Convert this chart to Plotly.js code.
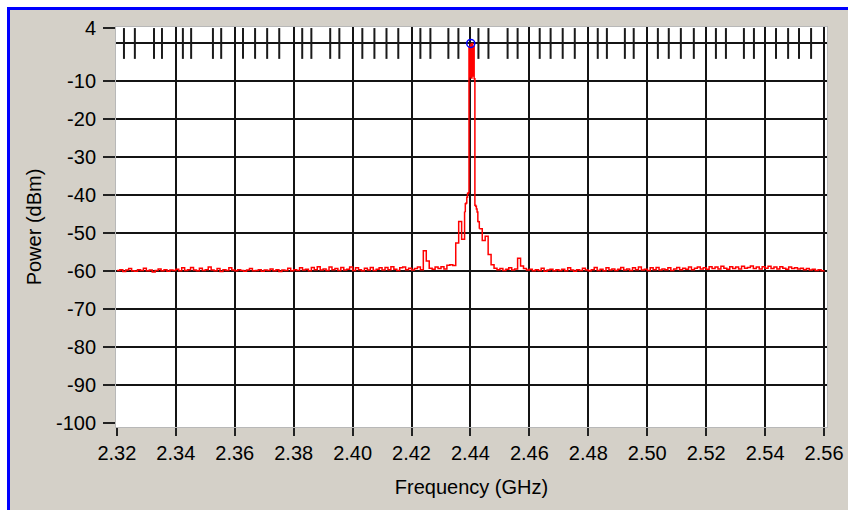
<!DOCTYPE html>
<html><head><meta charset="utf-8">
<script src="https://cdn.plot.ly/plotly-3.0.1.min.js"></script>
<style>
html,body{margin:0;padding:0;background:#fff;}
#wrap{position:relative;width:848px;height:510px;overflow:hidden;}
#chart{position:absolute;left:0;top:0;width:848px;height:510px;}
#frame{position:absolute;left:0;top:0;width:848px;height:510px;box-sizing:border-box;border-style:solid;border-color:#fff;border-width:7px 0 0 7px;pointer-events:none;}
#frame div{width:100%;height:100%;box-sizing:border-box;border-style:solid;border-color:#0000ff;border-width:3px 0 0 3px;}
</style></head>
<body>
<div id="wrap"><div id="chart"></div><div id="frame"><div></div></div></div>
<script>
// ---- data ----
const seg1Start = 2.320, seg1Step = 0.001;
const powerSeg1 = [
 -59.8,-59.6,-60.1,-59.7,-59.3,-59.9,-60.0,-59.6,-59.8,-59.2,
 -59.9,-59.7,-60.2,-59.8,-59.4,-59.9,-59.6,-60.0,-59.7,-59.8,
 -59.5,-59.9,-59.1,-59.8,-59.6,-59.0,-59.7,-59.9,-59.2,-59.8,
 -59.6,-58.9,-59.7,-59.9,-59.3,-60.1,-59.6,-59.8,-59.1,-59.7,
 -59.9,-59.6,-59.8,-60.0,-59.7,-59.3,-59.9,-59.8,-59.6,-60.0,
 -59.7,-59.8,-59.4,-59.9,-59.6,-60.1,-59.7,-59.8,-59.2,-59.9,
 -59.6,-59.8,-59.1,-59.7,-59.5,-59.9,-59.0,-59.6,-58.8,-59.7,
 -59.4,-59.8,-58.9,-59.6,-59.3,-59.8,-59.0,-59.7,-59.5,-58.9,
 -59.8,-59.1,-59.6,-59.9,-59.2,-59.7,-59.0,-59.8,-59.5,-59.1,
 -59.7,-59.0,-59.6,-58.8,-59.5,-59.8,-59.1,-58.9,-59.6,-59.2,
 -59.7,-59.3,-58.9,-59.6,-54.6,-57.3,-59.2,-59.5,-58.9,-59.3,
 -58.8,-59.4,-58.4,-58.3,-58.5,-52.6,-46.9,-51.6,
 -44.3
];
const seg2Start = 2.438, seg2Step = 0.00025;
const powerSeg2 = [
 -44.3,-42.2,-42.0,-40.5,-39.5,-39.3,-0.9,-8.8,-0.3,-9.1,
 0.0,-8.6,-0.8,-9.3,-42.6,-42.9,-43.6,-44.4,-46.9,-47.0,
 -48.8
];
const seg3Start = 2.443, seg3Step = 0.001;
const powerSeg3 = [
 -48.8,-51.9,-50.8,-55.6,-58.3,-59.2,-59.6,
 -59.3,-59.8,-59.5,-59.1,-59.7,-59.4,-56.6,-58.6,-59.3,-59.7,
 -59.5,-59.9,-59.6,-59.8,-59.2,-60.0,-59.7,-59.5,-59.9,-59.6,
 -59.8,-59.5,-59.9,-59.1,-59.7,-60.0,-59.6,-59.8,-59.2,-59.7,
 -59.9,-59.6,-59.0,-59.8,-59.5,-59.9,-59.1,-59.7,-59.4,-59.8,
 -59.5,-59.0,-59.7,-59.4,-59.8,-59.1,-59.6,-58.9,-59.7,-59.5,
 -59.8,-59.1,-59.6,-59.0,-59.7,-59.4,-59.6,-59.1,-59.8,-59.4,
 -59.0,-59.6,-59.2,-59.5,-58.9,-59.6,-59.2,-58.9,-59.4,-59.1,
 -59.5,-58.8,-59.3,-58.9,-59.4,-58.7,-59.2,-59.5,-58.8,-59.3,
 -58.9,-59.4,-58.7,-59.2,-59.0,-58.6,-59.3,-58.9,-59.4,-58.8,
 -59.2,-58.7,-59.3,-58.9,-59.4,-58.8,-59.2,-59.5,-58.9,-59.3,
 -59.1,-59.4,-59.2,-59.6,-59.3,-59.7,-59.5,-59.8,-59.6,-59.9,
 -59.8
];
const markerFreqs = [
 2.3224,2.3261,2.3326,2.3353,2.3424,2.3452,2.3526,2.3554,
 2.3628,2.3669,2.3710,2.3751,2.3829,2.3860,2.3924,2.3955,
 2.4033,2.4074,2.4115,2.4155,2.4230,2.4264,2.4325,2.4359,
 2.4427,2.4461,2.4526,2.4560,2.4635,2.4672,2.4713,2.4754,
 2.4832,2.4863,2.4924,2.4954,2.5036,2.5073,2.5114,2.5158,
 2.5233,2.5267,2.5328,2.5362,2.5437,2.5478,2.5515,2.5556
];
const markerLevel = 0;
const peakFreq = [2.4401];
const peakPower = [0];
const xTickVals = [2.32,2.34,2.36,2.38,2.40,2.42,2.44,2.46,2.48,2.50,2.52,2.54,2.56];
const xTickText = ['2.32','2.34','2.36','2.38','2.40','2.42','2.44','2.46','2.48','2.50','2.52','2.54','2.56'];
const yTickVals = [4,-10,-20,-30,-40,-50,-60,-70,-80,-90,-100];
const yTickText = ['4','-10','-20','-30','-40','-50','-60','-70','-80','-90','-100'];
const xGridVals = [2.34,2.36,2.38,2.40,2.42,2.44,2.46,2.48,2.50,2.52,2.54,2.56];
const yGridVals = [0,-10,-20,-30,-40,-50,-60,-70,-80,-90];
const xRange = [2.3197, 2.561];
const yRange = [-101.05, 4.34];

// ---- traces ----
const lineStyle = {color:'#ff0000', width:1.5, shape:'hv'};
function seg(x0, dx, y){
  return {type:'scatter', mode:'lines', x0:x0, dx:dx, y:y, line:lineStyle, hoverinfo:'skip', xaxis:'x', yaxis:'y'};
}
const traces = [
  seg(seg1Start, seg1Step, powerSeg1),
  seg(seg2Start, seg2Step, powerSeg2),
  seg(seg3Start, seg3Step, powerSeg3),
  {type:'scatter', mode:'markers', x:markerFreqs, y:markerFreqs.map(()=>markerLevel),
   marker:{symbol:'line-ns', size:22, line:{width:2, color:'#1a1a1a'}, color:'#1a1a1a'},
   hoverinfo:'skip', xaxis:'x2', yaxis:'y2'},
  {type:'scatter', mode:'markers', x:peakFreq, y:peakPower,
   marker:{symbol:'circle-open', size:8, line:{width:1.5, color:'#0000ff'}, color:'#0000ff'},
   hoverinfo:'skip', xaxis:'x2', yaxis:'y2'}
];

const fontFam = 'Liberation Sans, Arial, sans-serif';
const layout = {
  width:848, height:510,
  margin:{l:116, r:21, t:27, b:83, pad:0},
  paper_bgcolor:'#d4d0c8', plot_bgcolor:'#ffffff',
  showlegend:false,
  font:{family:fontFam, size:20, color:'#000'},
  xaxis:{range:xRange, tickmode:'array', tickvals:xTickVals, ticktext:xTickText,
    ticks:'outside', ticklen:8, tickwidth:2, tickcolor:'#222',
    showgrid:false, zeroline:false, showline:true, linecolor:'#b8b8b8', linewidth:1, mirror:true,
    tickfont:{size:20, color:'#000'},
    title:{text:'Frequency (GHz)', font:{size:20, color:'#000'}, standoff:16}},
  yaxis:{range:yRange, tickmode:'array', tickvals:yTickVals, ticktext:yTickText,
    ticks:'outside', ticklen:12, tickwidth:2, tickcolor:'#222', ticklabelstandoff:3,
    showgrid:false, zeroline:false, showline:true, linecolor:'#b8b8b8', linewidth:1, mirror:true,
    tickfont:{size:20, color:'#000'},
    title:{text:'Power (dBm)', font:{size:20, color:'#000'}, standoff:8}},
  xaxis2:{overlaying:'x', anchor:'y2', range:xRange, tickmode:'array', tickvals:xGridVals,
    showgrid:true, gridcolor:'#141414', gridwidth:2, showticklabels:false, ticks:'', zeroline:false, showline:false},
  yaxis2:{overlaying:'y', anchor:'x2', range:yRange, tickmode:'array', tickvals:yGridVals,
    showgrid:true, gridcolor:'#141414', gridwidth:2, showticklabels:false, ticks:'', zeroline:false, showline:false}
};
Plotly.newPlot('chart', traces, layout, {staticPlot:true, displayModeBar:false});
</script>
</body></html>
